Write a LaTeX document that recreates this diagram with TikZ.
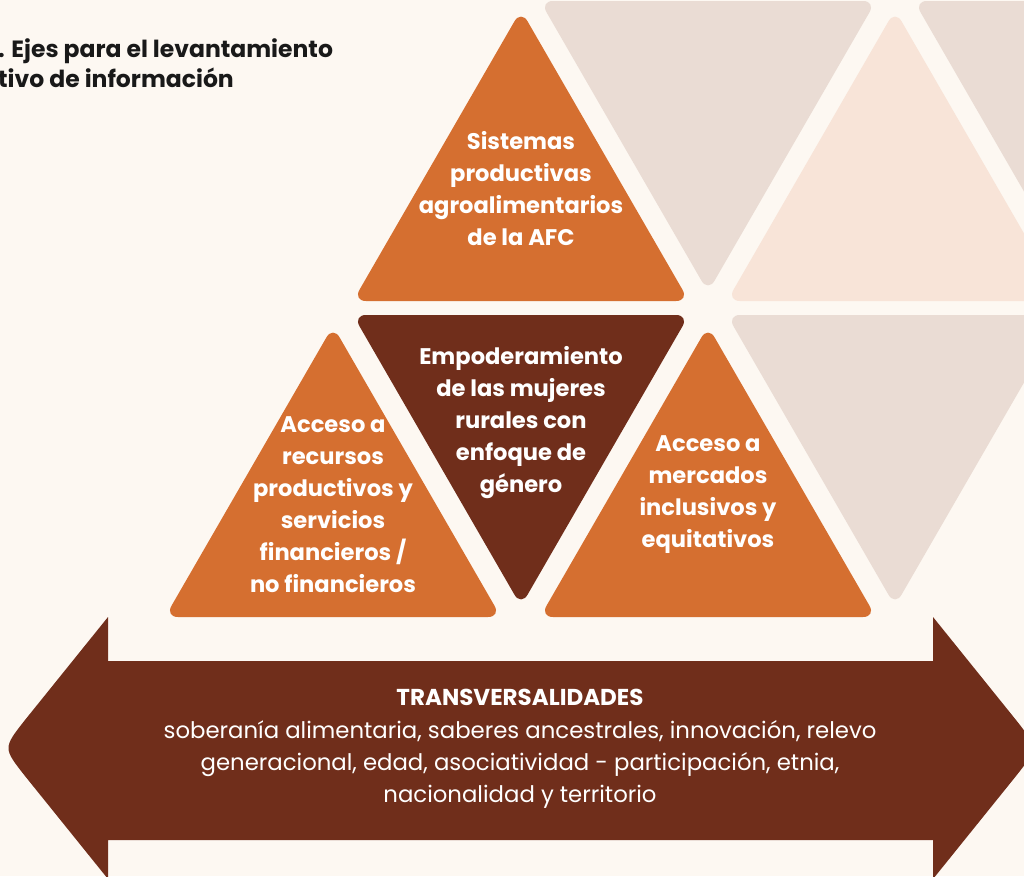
\documentclass[tikz,border=0pt]{standalone}
\usepackage{fontspec}
\setmainfont{Poppins}
\definecolor{fondo}{HTML}{FDF8F2}
\definecolor{naranja}{HTML}{D56F30}
\definecolor{cafe}{HTML}{702E1B}
\definecolor{gris}{HTML}{EADCD4}
\definecolor{durazno}{HTML}{F8E4D8}
\tikzset{
  tri/.style={rounded corners=13pt},
  ejetxt/.style={text=white, align=center, inner sep=0pt,
    font=\fontsize{22.6}{32}\selectfont\bfseries},
}
\begin{document}
\begin{tikzpicture}[x=1pt,y=-1pt]
        \useasboundingbox (0,0) rectangle (1024,876);
        \clip (0,0) rectangle (1024,876);
        \fill[fondo] (0,0) rectangle (1024,876);

        % fila de arriba
        \fill[naranja,tri] (353,301) -- (521,10) -- (689,301) -- cycle;
        \fill[gris,tri] (540,1) -- (876,1) -- (708,292) -- cycle;
        \fill[durazno,tri] (727,301) -- (895,10) -- (1063,301) -- cycle;
        \fill[gris,tri] (914,1) -- (1250,1) -- (1082,292) -- cycle;

        % fila de abajo
        \fill[naranja,tri] (165,617) -- (333,326) -- (501,617) -- cycle;
        \fill[cafe,tri] (353,315) -- (689,315) -- (521,606) -- cycle;
        \fill[naranja,tri] (540,617) -- (708,326) -- (876,617) -- cycle;
        \fill[gris,tri] (727,315) -- (1063,315) -- (895,606) -- cycle;

        % flecha doble
        \fill[cafe] (108,661) -- (933,661) -- (933,617) -- (1016,720)
            .. controls (1038,748) .. (1016,776) -- (933,879) -- (933,840)
            -- (108,840) -- (108,879) -- (25,776)
            .. controls (3,748) .. (25,720) -- (108,617) -- cycle;

        \node[ejetxt] (sistemas) at (521,189) {Sistemas\\productivas\\agroalimentarios\\de la AFC};
        \node[ejetxt] (empoderamiento) at (521,423) {Empoderamiento\\de las mujeres\\rurales con\\enfoque de\\género};
        \node[ejetxt] (recursos) at (333,505) {Acceso a\\recursos\\productivos y\\servicios\\financieros /\\no financieros};
        \node[ejetxt] (mercados) at (708,495) {Acceso a\\mercados\\inclusivos y\\equitativos};

        \node[text=white, inner sep=0pt, font=\fontsize{23}{32}\selectfont\bfseries] (transv) at (520,697) {TRANSVERSALIDADES};
        \node[text=white, inner sep=0pt, align=center, font=\fontsize{22.8}{32}\selectfont] (temas) at (520,764)
            {soberanía alimentaria, saberes ancestrales, innovación, relevo\\generacional, edad, asociatividad - participación, etnia,\\nacionalidad y territorio};

        \node[anchor=west, align=left, inner sep=0pt, text=black!90,
            font=\fontsize{23.5}{30}\selectfont\bfseries] (titulo) at (-2,63)
            {. Ejes para el levantamiento\\tivo de información};
\end{tikzpicture}
\end{document}
